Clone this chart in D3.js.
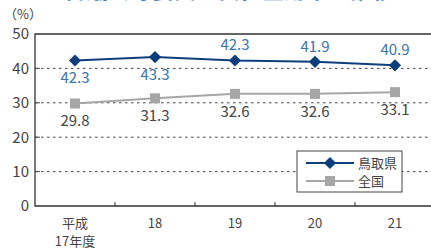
<!DOCTYPE html>
<html>
<head>
<meta charset="utf-8">
<script src="https://cdn.jsdelivr.net/npm/d3@7"></script>
<style>
  html, body { margin: 0; padding: 0; background: #fff; overflow: hidden; }
  svg { display: block; font-family: "Noto Sans CJK JP", "Noto Sans", sans-serif; }
</style>
</head>
<body>
<div id="chart"></div>
<script>
var years = ["平成\n17年度", "18", "19", "20", "21"];
var tottori = [42.3, 43.3, 42.3, 41.9, 40.9];
var national = [29.8, 31.3, 32.6, 32.6, 33.1];
var yTicks = [0, 10, 20, 30, 40, 50];
// label above (-1) or below (1) the marker
var tottoriLabelSide = [1, 1, -1, -1, -1];
var seriesNames = ["鳥取県", "全国"];

var width = 431, height = 249;
var svg = d3.select("#chart").append("svg")
  .attr("width", width)
  .attr("height", height);

// title, cut off at the top of the picture
svg.append("text")
  .attr("x", 229)
  .attr("y", -2)
  .attr("text-anchor", "middle")
  .attr("font-size", 22)
  .attr("font-weight", "bold")
  .attr("fill", "#3474b0")
  .text("審議会等委員の女性登用率の推移");

var x = d3.scaleBand()
  .domain(years)
  .range([35, 435]);

var y = d3.scaleLinear()
  .domain([0, 50])
  .range([206, 34]);

var cx = function(i) { return x(years[i]) + x.bandwidth() / 2; };

// grid lines
svg.selectAll("line.grid")
  .data(yTicks.filter(function(t) { return t > 0 && t < 50; }))
  .enter().append("line")
    .attr("class", "grid")
    .attr("x1", 35).attr("x2", width)
    .attr("y1", function(d) { return y(d); })
    .attr("y2", function(d) { return y(d); })
    .attr("stroke", "#444")
    .attr("stroke-width", 1)
    .attr("stroke-dasharray", "2.5,3.5");

// short solid ticks inside the axis
svg.selectAll("line.ytick")
  .data(yTicks.filter(function(t) { return t > 0 && t < 50; }))
  .enter().append("line")
    .attr("x1", 35).attr("x2", 40)
    .attr("y1", function(d) { return y(d); })
    .attr("y2", function(d) { return y(d); })
    .attr("stroke", "#444");

// frame: top, left, bottom
svg.append("path")
  .attr("d", "M" + width + "," + y(50) + "H35V" + y(0) + "H" + width)
  .attr("fill", "none")
  .attr("stroke", "#333")
  .attr("stroke-width", 1.3);

// category boundary ticks on the bottom axis
svg.selectAll("line.xtick")
  .data(years.slice(1))
  .enter().append("line")
    .attr("x1", function(d) { return x(d); })
    .attr("x2", function(d) { return x(d); })
    .attr("y1", y(0)).attr("y2", y(0) - 4)
    .attr("stroke", "#333");

// y labels
svg.selectAll("text.ylab")
  .data(yTicks)
  .enter().append("text")
    .attr("x", 29)
    .attr("y", function(d) { return y(d); })
    .attr("dy", "0.36em")
    .attr("text-anchor", "end")
    .attr("font-size", 15)
    .attr("fill", "#444")
    .text(function(d) { return d; });

svg.append("text")
  .attr("x", 4)
  .attr("y", 19)
  .attr("font-size", 13)
  .attr("fill", "#444")
  .text("（%）");

// x labels
years.forEach(function(d, i) {
  var lines = d.split("\n");
  lines.forEach(function(s, j) {
    svg.append("text")
      .attr("x", cx(i))
      .attr("y", 228 + j * 18)
      .attr("text-anchor", "middle")
      .attr("font-size", 13)
      .attr("fill", "#444")
      .text(s);
  });
});

var line = d3.line()
  .x(function(d, i) { return cx(i); })
  .y(function(d) { return y(d); });

// national series
svg.append("path")
  .datum(national)
  .attr("d", line)
  .attr("fill", "none")
  .attr("stroke", "#a6a6a6")
  .attr("stroke-width", 2);

svg.selectAll("rect.nat")
  .data(national)
  .enter().append("rect")
    .attr("x", function(d, i) { return cx(i) - 5; })
    .attr("y", function(d) { return y(d) - 5; })
    .attr("width", 10).attr("height", 10)
    .attr("fill", "#a6a6a6");

svg.selectAll("text.natlab")
  .data(national)
  .enter().append("text")
    .attr("x", function(d, i) { return cx(i); })
    .attr("y", function(d) { return y(d) + 23; })
    .attr("text-anchor", "middle")
    .attr("font-size", 15)
    .attr("fill", "#444")
    .text(function(d) { return d.toFixed(1); });

// tottori series
svg.append("path")
  .datum(tottori)
  .attr("d", line)
  .attr("fill", "none")
  .attr("stroke", "#0e3f7c")
  .attr("stroke-width", 2);

var diamond = d3.symbol().type(d3.symbolDiamond2).size(95);

svg.selectAll("path.tot")
  .data(tottori)
  .enter().append("path")
    .attr("d", diamond)
    .attr("transform", function(d, i) { return "translate(" + cx(i) + "," + y(d) + ")"; })
    .attr("fill", "#0e3f7c");

svg.selectAll("text.totlab")
  .data(tottori)
  .enter().append("text")
    .attr("x", function(d, i) { return cx(i); })
    .attr("y", function(d, i) { return tottoriLabelSide[i] > 0 ? y(d) + 23 : y(d) - 10; })
    .attr("text-anchor", "middle")
    .attr("font-size", 15)
    .attr("fill", "#3b73aa")
    .text(function(d) { return d.toFixed(1); });

// legend
var lg = svg.append("g").attr("transform", "translate(297,151)");
lg.append("rect")
  .attr("width", 105).attr("height", 41)
  .attr("fill", "#fff")
  .attr("stroke", "#444");

var legendStyles = [
  { color: "#0e3f7c", mark: "diamond" },
  { color: "#a6a6a6", mark: "square" }
];
seriesNames.forEach(function(name, i) {
  var ly = 12 + i * 18;
  var st = legendStyles[i];
  lg.append("line")
    .attr("x1", 9).attr("x2", 57)
    .attr("y1", ly).attr("y2", ly)
    .attr("stroke", st.color)
    .attr("stroke-width", 2);
  if (st.mark === "diamond") {
    lg.append("path")
      .attr("d", diamond)
      .attr("transform", "translate(33," + ly + ")")
      .attr("fill", st.color);
  } else {
    lg.append("rect")
      .attr("x", 28).attr("y", ly - 5)
      .attr("width", 10).attr("height", 10)
      .attr("fill", st.color);
  }
  lg.append("text")
    .attr("x", 61)
    .attr("y", ly)
    .attr("dy", "0.36em")
    .attr("font-size", 13)
    .attr("fill", "#444")
    .text(name);
});
</script>
</body>
</html>
